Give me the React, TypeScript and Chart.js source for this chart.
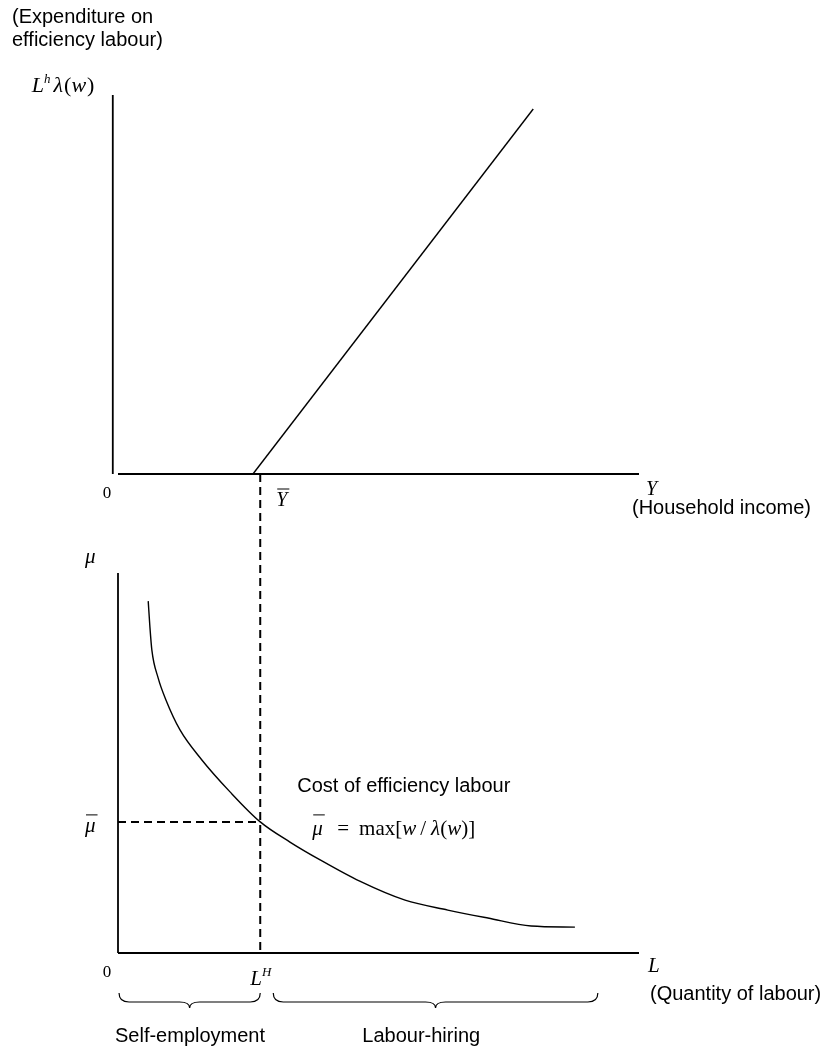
import React, { useEffect, useRef } from "react";
import { Chart, registerables } from "chart.js";

Chart.register(...registerables);

// ---------------- data ----------------
// Upper panel: expenditure on efficiency labour against household income
const incomeValues = [25.9, 79.7];
const expenditureValues = [0, 96.3];

// Lower panel: cost of efficiency labour against quantity of labour
const labourValues = [5.8, 6.1, 6.5, 7.7, 9.2, 11.9, 16.1, 21.5, 27.3, 33.0, 38.8, 46.4, 55.1, 63.3, 71.0, 79.3, 87.7];
const costValues = [92.6, 86.3, 79.7, 72.4, 66.6, 58.7, 50.8, 42.4, 34.5, 29.2, 24.5, 18.9, 13.9, 11.3, 9.2, 7.1, 6.8];

// Thresholds: Ȳ on the income axis (= L^H on the labour axis) and μ̄
const incomeThreshold = 27.3;
const costThreshold = 34.5;

// Regions along the labour axis (braces)
const regionNames = ["Self-employment", "Labour-hiring"];
const regionStarts = [0.2, 29.8];
const regionEnds = [27.3, 92.1];

// Axis text
const topTitleLines = ["(Expenditure on", "efficiency labour)"];
const topXAxisName = "(Household income)";
const bottomXAxisName = "(Quantity of labour)";
const curveCaption = "Cost of efficiency labour";
const originLabel = "0";

// ---------------- layout ----------------
const PAGE_W = 832;
const PAGE_H = 1052;
const TOP_H = 530;
const BOTTOM_TOP = 474;
const BOTTOM_H = PAGE_H - BOTTOM_TOP;

const SANS = '"Liberation Sans", Arial, sans-serif';
const SERIF = '"Liberation Serif", "Times New Roman", serif';

type Run = { t: string; it?: boolean; size?: number; dy?: number; gap?: number };

function drawRuns(ctx: CanvasRenderingContext2D, x: number, y: number, runs: Run[], base: number) {
  let cx = x;
  for (const r of runs) {
    const size = r.size ?? base;
    ctx.font = `${r.it ? "italic " : ""}${size}px ${SERIF}`;
    ctx.fillText(r.t, cx, y + (r.dy ?? 0));
    cx += ctx.measureText(r.t).width + (r.gap ?? 0);
  }
  return cx;
}

function seg(ctx: CanvasRenderingContext2D, xa: number, ya: number, xb: number, yb: number) {
  ctx.beginPath();
  ctx.moveTo(xa, ya);
  ctx.lineTo(xb, yb);
  ctx.stroke();
}

function overlinedItalic(ctx: CanvasRenderingContext2D, t: string, x: number, baseline: number, size: number, barY: number) {
  ctx.font = `italic ${size}px ${SERIF}`;
  ctx.fillText(t, x, baseline);
  const w = ctx.measureText(t).width;
  ctx.lineWidth = 1;
  seg(ctx, x + 1, barY, x + w + 2, barY);
}

function brace(ctx: CanvasRenderingContext2D, xa: number, xb: number, yTop: number) {
  const h = 9;
  const tip = 6;
  const r = 10;
  const mid = (xa + xb) / 2;
  ctx.beginPath();
  ctx.moveTo(xa, yTop);
  ctx.quadraticCurveTo(xa, yTop + h, xa + r, yTop + h);
  ctx.lineTo(mid - r, yTop + h);
  ctx.quadraticCurveTo(mid, yTop + h, mid, yTop + h + tip);
  ctx.quadraticCurveTo(mid, yTop + h, mid + r, yTop + h);
  ctx.lineTo(xb - r, yTop + h);
  ctx.quadraticCurveTo(xb, yTop + h, xb, yTop);
  ctx.stroke();
}

const topOverlay = {
  id: "topOverlay",
  afterDraw(chart: any) {
    const { ctx } = chart;
    const x = chart.scales.x;
    const y = chart.scales.y;
    const xl = x.getPixelForValue(x.min);
    const x0 = x.getPixelForValue(0);
    const x1 = x.getPixelForValue(x.max);
    const y0 = y.getPixelForValue(0);
    const y1 = y.getPixelForValue(y.max);
    ctx.save();
    ctx.strokeStyle = "#000";
    ctx.fillStyle = "#000";
    ctx.lineWidth = 1.8;
    seg(ctx, xl, y1, xl, y0);
    seg(ctx, x0, y0, x1, y0);

    ctx.textBaseline = "alphabetic";
    ctx.textAlign = "left";
    ctx.font = `20px ${SANS}`;
    topTitleLines.forEach((t, i) => ctx.fillText(t, 12, 23 + i * 23));

    drawRuns(ctx, xl - 81, y1 - 3, [
      { t: "L", it: true, gap: 0 },
      { t: "h", it: true, size: 13, dy: -9, gap: 3 },
      { t: "λ", it: true, gap: 1 },
      { t: "(" },
      { t: "w", it: true, gap: 1 },
      { t: ")" },
    ], 22);

    ctx.font = `17px ${SERIF}`;
    ctx.textAlign = "center";
    ctx.fillText(originLabel, x0 - 11, y0 + 24);
    ctx.textAlign = "left";

    const xt = x.getPixelForValue(incomeThreshold);
    overlinedItalic(ctx, "Y", xt + 16, y0 + 32, 20, y0 + 15);

    ctx.font = `italic 20px ${SERIF}`;
    ctx.fillText("Y", x1 + 7, y0 + 21);
    ctx.font = `20px ${SANS}`;
    ctx.fillText(topXAxisName, x1 - 7, y0 + 40);
    ctx.restore();
  },
};

const bottomOverlay = {
  id: "bottomOverlay",
  afterDraw(chart: any) {
    const { ctx } = chart;
    const x = chart.scales.x;
    const y = chart.scales.y;
    const x0 = x.getPixelForValue(0);
    const x1 = x.getPixelForValue(x.max);
    const y0 = y.getPixelForValue(0);
    const y1 = y.getPixelForValue(y.max);
    const xt = x.getPixelForValue(incomeThreshold);
    const ym = y.getPixelForValue(costThreshold);
    ctx.save();
    ctx.strokeStyle = "#000";
    ctx.fillStyle = "#000";

    // dashed link from the upper panel's axis down to L^H
    ctx.lineWidth = 2;
    ctx.setLineDash([8, 5]);
    seg(ctx, xt, 0, xt, y0);
    ctx.setLineDash([]);

    ctx.lineWidth = 1.8;
    seg(ctx, x0, y1, x0, y0);
    seg(ctx, x0, y0, x1, y0);

    ctx.textBaseline = "alphabetic";
    ctx.textAlign = "left";

    ctx.font = `italic 21px ${SERIF}`;
    ctx.fillText("μ", x0 - 33, y1 - 10);
    overlinedItalic(ctx, "μ", x0 - 33, ym + 10, 21, ym - 7);

    ctx.font = `17px ${SERIF}`;
    ctx.textAlign = "center";
    ctx.fillText(originLabel, x0 - 11, y0 + 24);
    ctx.textAlign = "left";

    drawRuns(ctx, xt - 10, y0 + 32, [
      { t: "L", it: true, gap: 0 },
      { t: "H", it: true, size: 13, dy: -9 },
    ], 21);

    ctx.font = `italic 21px ${SERIF}`;
    ctx.fillText("L", x1 + 9, y0 + 19);
    ctx.font = `20px ${SANS}`;
    ctx.fillText(bottomXAxisName, x1 + 11, y0 + 47);

    // caption and formula
    ctx.font = `20px ${SANS}`;
    ctx.fillText(curveCaption, xt + 37, ym - 30);
    const fx = xt + 52;
    overlinedItalic(ctx, "μ", fx, ym + 13, 21, ym - 7);
    drawRuns(ctx, fx + 25, ym + 13, [
      { t: "=", gap: 10 },
      { t: "max[" },
      { t: "w", it: true, gap: 4 },
      { t: "/", gap: 5 },
      { t: "λ", it: true },
      { t: "(" },
      { t: "w", it: true },
      { t: ")]" },
    ], 21);

    // braces and region names
    ctx.lineWidth = 1.2;
    const braceTop = y0 + 40;
    const labelX = [x0 + 72, xt + 161];
    regionNames.forEach((name, i) => {
      brace(ctx, x.getPixelForValue(regionStarts[i]), x.getPixelForValue(regionEnds[i]), braceTop);
      ctx.font = `20px ${SANS}`;
      ctx.textAlign = "center";
      ctx.fillText(name, labelX[i], y0 + 89);
    });
    ctx.restore();
  },
};

function baseOptions(padding: any, xMin: number) {
  return {
    responsive: false,
    maintainAspectRatio: false,
    animation: false,
    events: [],
    layout: { padding },
    plugins: { legend: { display: false }, tooltip: { enabled: false }, title: { display: false } },
    scales: {
      x: { type: "linear", min: xMin, max: 100, display: false },
      y: { type: "linear", min: 0, max: 100, display: false },
    },
  } as any;
}

export default function App() {
  const topRef = useRef<HTMLCanvasElement | null>(null);
  const bottomRef = useRef<HTMLCanvasElement | null>(null);

  useEffect(() => {
    if (!topRef.current || !bottomRef.current) return;
    const top = new Chart(topRef.current, {
      type: "scatter",
      data: {
        datasets: [
          {
            data: incomeValues.map((v, i) => ({ x: v, y: expenditureValues[i] })),
            showLine: true,
            borderColor: "#000",
            borderWidth: 1.4,
            pointRadius: 0,
            tension: 0,
            clip: false,
          },
        ],
      },
      options: baseOptions({ left: 112.79, right: PAGE_W - 639, top: 95, bottom: TOP_H - 474 }, -1),
      plugins: [topOverlay],
    } as any);

    const bottom = new Chart(bottomRef.current, {
      type: "scatter",
      data: {
        datasets: [
          {
            data: labourValues.map((v, i) => ({ x: v, y: costValues[i] })),
            showLine: true,
            borderColor: "#000",
            borderWidth: 1.4,
            pointRadius: 0,
            cubicInterpolationMode: "monotone",
            clip: false,
          },
          {
            data: [
              { x: 0, y: costThreshold },
              { x: incomeThreshold, y: costThreshold },
            ],
            showLine: true,
            borderColor: "#000",
            borderWidth: 2,
            borderDash: [8, 5],
            pointRadius: 0,
            clip: false,
          },
        ],
      },
      options: baseOptions({ left: 118, right: PAGE_W - 639, top: 573 - BOTTOM_TOP, bottom: PAGE_H - 953 }, 0),
      plugins: [bottomOverlay],
    } as any);

    return () => {
      top.destroy();
      bottom.destroy();
    };
  }, []);

  return (
    <div style={{ position: "absolute", left: 0, top: 0, width: PAGE_W, height: PAGE_H, overflow: "hidden", background: "#fff" }}>
      <canvas
        ref={topRef}
        width={PAGE_W}
        height={TOP_H}
        style={{ position: "absolute", left: 0, top: 0, width: PAGE_W, height: TOP_H }}
      />
      <canvas
        ref={bottomRef}
        width={PAGE_W}
        height={BOTTOM_H}
        style={{ position: "absolute", left: 0, top: BOTTOM_TOP, width: PAGE_W, height: BOTTOM_H }}
      />
    </div>
  );
}
